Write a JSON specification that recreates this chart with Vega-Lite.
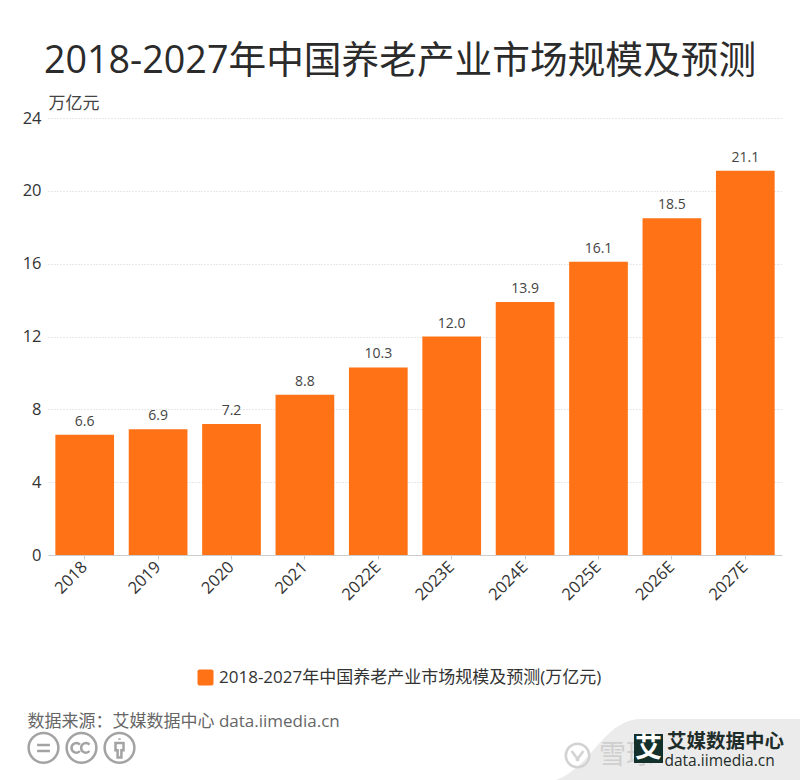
{
  "$schema": "https://vega.github.io/schema/vega-lite/v6.json",
  "width": 734,
  "height": 437,
  "autosize": "none",
  "padding": {"left": 48, "top": 118, "right": 18, "bottom": 225},
  "background": "#ffffff",
  "title": {
    "text": "2018-2027年中国养老产业市场规模及预测",
    "anchor": "middle",
    "frame": "group",
    "dx": -15,
    "offset": 13,
    "fontSize": 37.7,
    "fontWeight": "normal",
    "font": "Open Sans, Noto Sans CJK SC",
    "color": "#2b2b2b"
  },
  "config": {"font": "Open Sans, Noto Sans CJK SC", "view": {"stroke": null}},
  "datasets": {
    "market": [
      {"year": "2018", "value": 6.6, "series": "2018-2027年中国养老产业市场规模及预测(万亿元)"},
      {"year": "2019", "value": 6.9, "series": "2018-2027年中国养老产业市场规模及预测(万亿元)"},
      {"year": "2020", "value": 7.2, "series": "2018-2027年中国养老产业市场规模及预测(万亿元)"},
      {"year": "2021", "value": 8.8, "series": "2018-2027年中国养老产业市场规模及预测(万亿元)"},
      {"year": "2022E", "value": 10.3, "series": "2018-2027年中国养老产业市场规模及预测(万亿元)"},
      {"year": "2023E", "value": 12.0, "series": "2018-2027年中国养老产业市场规模及预测(万亿元)"},
      {"year": "2024E", "value": 13.9, "series": "2018-2027年中国养老产业市场规模及预测(万亿元)"},
      {"year": "2025E", "value": 16.1, "series": "2018-2027年中国养老产业市场规模及预测(万亿元)"},
      {"year": "2026E", "value": 18.5, "series": "2018-2027年中国养老产业市场规模及预测(万亿元)"},
      {"year": "2027E", "value": 21.1, "series": "2018-2027年中国养老产业市场规模及预测(万亿元)"}
    ],
    "none": []
  },
  "resolve": {"scale": {"shape": "independent"}, "legend": {"shape": "independent"}},
  "layer": [
    {
      "data": {"name": "none"},
      "mark": {"type": "point", "filled": true, "opacity": 0, "color": "#ebebeb"},
      "encoding": {
        "shape": {
          "field": "swoosh",
          "type": "nominal",
          "scale": {"domain": ["band"], "range": ["M-1,-0.5C-0.7,-0.6,-0.6,-1,-0.3,-1H1V-0.5Z"]},
          "legend": {
            "orient": "none", "legendX": 507, "legendY": 601, "title": null, "padding": 0,
            "symbolSize": 60025, "symbolOpacity": 1,
            "symbolStrokeWidth": 0, "labelExpr": "''", "labelFontSize": 1, "labelOffset": 0
          }
        }
      }
    },
    {
      "data": {"name": "market"},
      "mark": {"type": "bar"},
      "encoding": {
        "x": {
          "field": "year",
          "type": "nominal",
          "sort": null,
          "scale": {"paddingInner": 0.2, "paddingOuter": 0.1},
          "axis": {
            "title": "数据来源：艾媒数据中心 data.iimedia.cn",
            "titleX": -21,
            "titleY": 166,
            "titleAlign": "left",
            "titleBaseline": "middle",
            "titleFontSize": 17,
            "titleFontWeight": "normal",
            "titleColor": "#666666",
            "labelAngle": -45,
            "labelAlign": "right",
            "labelBaseline": "middle",
            "labelFontSize": 16.5,
            "labelColor": "#333333",
            "labelPadding": 5,
            "tickColor": "#cccccc",
            "tickSize": 4,
            "domainColor": "#cccccc",
            "grid": false
          }
        },
        "y": {
          "field": "value",
          "type": "quantitative",
          "scale": {"domain": [0, 24]},
          "axis": {
            "values": [0, 4, 8, 12, 16, 20, 24],
            "title": "万亿元",
            "titleX": 0,
            "titleY": -15,
            "titleAngle": 0,
            "titleAlign": "left",
            "titleBaseline": "middle",
            "titleFontSize": 17,
            "titleFontWeight": "normal",
            "titleColor": "#444444",
            "labelFontSize": 16.5,
            "labelColor": "#333333",
            "labelPadding": 7,
            "ticks": false,
            "domain": false,
            "grid": true,
            "gridColor": "#d0d0d0",
            "gridDash": [1, 2]
          }
        },
        "color": {
          "field": "series",
          "type": "nominal",
          "scale": {"range": ["#ff7216"]},
          "legend": {
            "orient": "none", "legendX": 149, "legendY": 551, "title": null, "padding": 0,
            "symbolType": "M-0.75,-1H0.75A0.25,0.25,0,0,1,1,-0.75V0.75A0.25,0.25,0,0,1,0.75,1H-0.75A0.25,0.25,0,0,1,-1,0.75V-0.75A0.25,0.25,0,0,1,-0.75,-1Z",
            "symbolSize": 256, "symbolStrokeWidth": 0, "symbolOpacity": 1,
            "labelFontSize": 17, "labelColor": "#333333", "labelLimit": 500, "labelOffset": 5
          }
        }
      }
    },
    {
      "data": {"name": "market"},
      "mark": {"type": "text", "dy": -13, "fontSize": 14, "color": "#444444"},
      "encoding": {
        "x": {"field": "year", "type": "nominal", "sort": null},
        "y": {"field": "value", "type": "quantitative"},
        "text": {"field": "value", "type": "quantitative", "format": ".1f"}
      }
    },
    {
      "data": {"name": "none"},
      "mark": {"type": "point", "opacity": 0},
      "encoding": {
        "shape": {
          "field": "licence",
          "type": "nominal",
          "scale": {
            "domain": ["nd", "cc", "by"],
            "range": [
              "M-0.93,0A0.93,0.93,0,1,1,0.93,0A0.93,0.93,0,1,1,-0.93,0ZM-0.4,-0.18H0.4M-0.4,0.2H0.4",
              "M-0.93,0A0.93,0.93,0,1,1,0.93,0A0.93,0.93,0,1,1,-0.93,0ZM-0.1,-0.2A0.3,0.3,0,1,0,-0.1,0.2M0.5,-0.2A0.3,0.3,0,1,0,0.5,0.2",
              "M-0.93,0A0.93,0.93,0,1,1,0.93,0A0.93,0.93,0,1,1,-0.93,0ZM0,-0.6V-0.5M-0.25,-0.3H0.25V0.15H0.12V0.6H-0.12V0.15H-0.25Z"
            ]
          },
          "legend": {
            "orient": "none", "legendX": -22, "legendY": 612, "title": null, "padding": 0,
            "direction": "horizontal", "columns": 3, "columnPadding": -11.5,
            "symbolSize": 1024, "symbolFillColor": "transparent", "symbolStrokeColor": "#a3a3a3",
            "symbolStrokeWidth": 2.5, "symbolOpacity": 1, "labelExpr": "''", "labelFontSize": 1, "labelOffset": 0
          }
        }
      }
    },
    {
      "data": {"name": "none"},
      "mark": {"type": "point", "opacity": 0, "color": "#d2d2d2"},
      "encoding": {
        "shape": {
          "field": "snowball",
          "type": "nominal",
          "scale": {"domain": ["雪球"], "range": ["M-0.9,0A0.9,0.9,0,1,1,0.9,0A0.9,0.9,0,1,1,-0.9,0ZM-0.45,-0.35L0.1,0.4M0.45,-0.35L-0.1,0.4"]},
          "legend": {
            "orient": "none", "legendX": 515, "legendY": 623, "title": null, "padding": 0,
            "symbolSize": 676, "symbolStrokeWidth": 2.5, "symbolOpacity": 1,
            "labelFontSize": 27, "labelColor": "#cfcfcf", "labelOffset": 7
          }
        }
      }
    },
    {
      "data": {"name": "none"},
      "mark": {"type": "point", "filled": true, "opacity": 0, "color": "#13302b"},
      "encoding": {
        "shape": {
          "field": "logo",
          "type": "nominal",
          "scale": {"domain": ["艾"], "range": ["square"]},
          "legend": {
            "orient": "none", "legendX": 586, "legendY": 616, "title": null, "padding": 0,
            "symbolSize": 841, "symbolStrokeWidth": 0, "symbolOpacity": 1,
            "labelFontSize": 27, "labelFontWeight": "bold", "labelColor": "#ffffff", "labelOffset": -28
          }
        }
      }
    },
    {
      "data": {"name": "none"},
      "mark": {"type": "point", "filled": true, "opacity": 0, "color": "#1f2d2a"},
      "encoding": {
        "shape": {
          "field": "brand",
          "type": "nominal",
          "scale": {"domain": ["data.iimedia.cn"], "range": ["square"]},
          "legend": {
            "orient": "none", "legendX": 619, "legendY": 615, "padding": 0,
            "title": "艾媒数据中心", "titleFontSize": 19.5, "titleFontWeight": "bold", "titleColor": "#1f2d2a", "titlePadding": 1,
            "symbolSize": 0, "symbolStrokeWidth": 0, "labelFontSize": 15.5, "labelColor": "#1f2d2a", "labelOffset": -18, "labelLimit": 200
          }
        }
      }
    }
  ]
}
